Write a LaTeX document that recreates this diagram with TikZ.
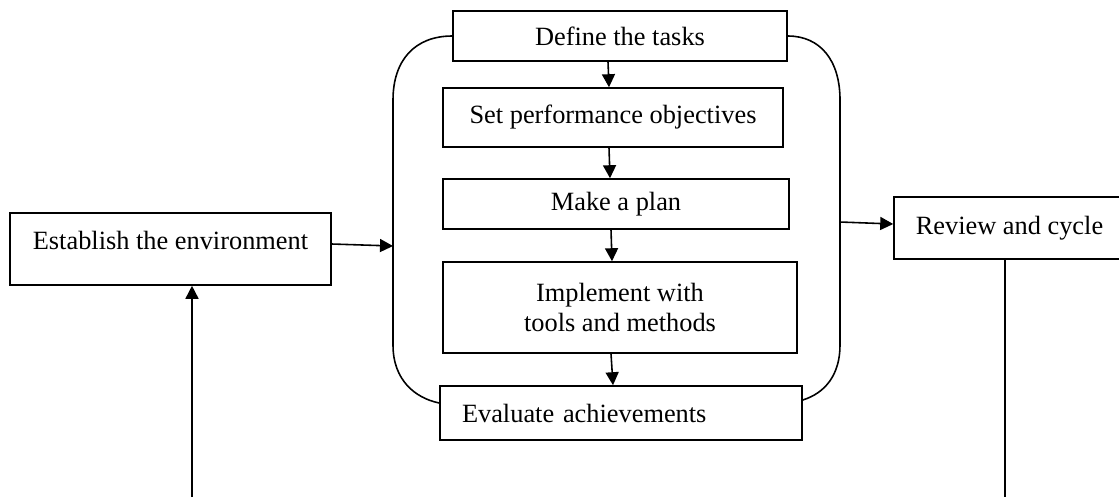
\documentclass[tikz,border=0pt]{standalone}
\usepackage{fontspec}
\setmainfont{Liberation Serif}
\usetikzlibrary{arrows.meta}

\begin{document}
\begin{tikzpicture}[x=0.2mm,y=-0.2mm,line width=0.9pt,
    >={Triangle[length=2.6mm,width=2.6mm]},
    box/.style={draw,rectangle,inner sep=0pt,font=\fontsize{15}{17.6}\selectfont,align=center}]
        \useasboundingbox (0,0) rectangle (1119,497);
        \clip (0,0) rectangle (1119,497);
        % steps inside the loop
        \node[box,minimum width=66.8mm,minimum height=10mm] (define) at (620,36) {Define the tasks};
        \node[box,minimum width=68mm,minimum height=11.8mm] (objectives) at (613,117.5) {Set performance objectives};
        \node[box,minimum width=69.2mm,minimum height=10mm] (plan) at (616,204) {Make a plan};
        \node[box,minimum width=70.8mm,minimum height=18.2mm] (implement) at (620,307.5) {Implement with\\tools and methods};
        \node[box,text width=63.6mm,inner xsep=4.4mm,minimum height=10.8mm,align=left] (evaluate) at (621,413) {Evaluate achievements};
        % outer blocks
        \node[box,minimum width=64.2mm,minimum height=14.4mm,text height=3.6mm,text depth=3.6mm] (environment) at (170.5,249) {Establish the environment};
        \node[box,minimum width=46.2mm,minimum height=12.4mm] (review) at (1009.5,228) {Review and cycle};
        % loop frame
        \draw (define.west) .. controls (415,36) and (393,60) .. (393,100) -- (393,345)
            .. controls (393,380) and (415,398) .. ([yshift=2mm]evaluate.west);
        \draw (define.east) .. controls (820,36) and (840,60) .. (840,100) -- (840,345)
            .. controls (840,375) and (825,393) .. ([yshift=2.6mm]evaluate.east);
        \coordinate (fin) at (393,246);
        \coordinate (fout) at (840,222);
        \coordinate (feedin) at (192,497);
        \coordinate (feedout) at (1005,497);
        % arrows
        \draw [->] ([xshift=-2.4mm]define.south) -- ([xshift=-0.8mm]objectives.north);
        \draw [->] ([xshift=-0.8mm]objectives.south) -- ([xshift=-1.2mm]plan.north);
        \draw [->] ([xshift=-1mm]plan.south) -- ([xshift=-1.6mm]implement.north);
        \draw [->] ([xshift=-1.8mm]implement.south) -- ([xshift=-1.6mm]evaluate.north);
        \draw [->] ([yshift=1mm]environment.east) -- (fin);
        \draw [->] (fout) -- ([yshift=0.8mm]review.west);
        \draw [->] (feedin) -- (environment.south -| feedin);
        \draw (review.south -| feedout) -- (feedout);
    \end{tikzpicture}
\end{document}
